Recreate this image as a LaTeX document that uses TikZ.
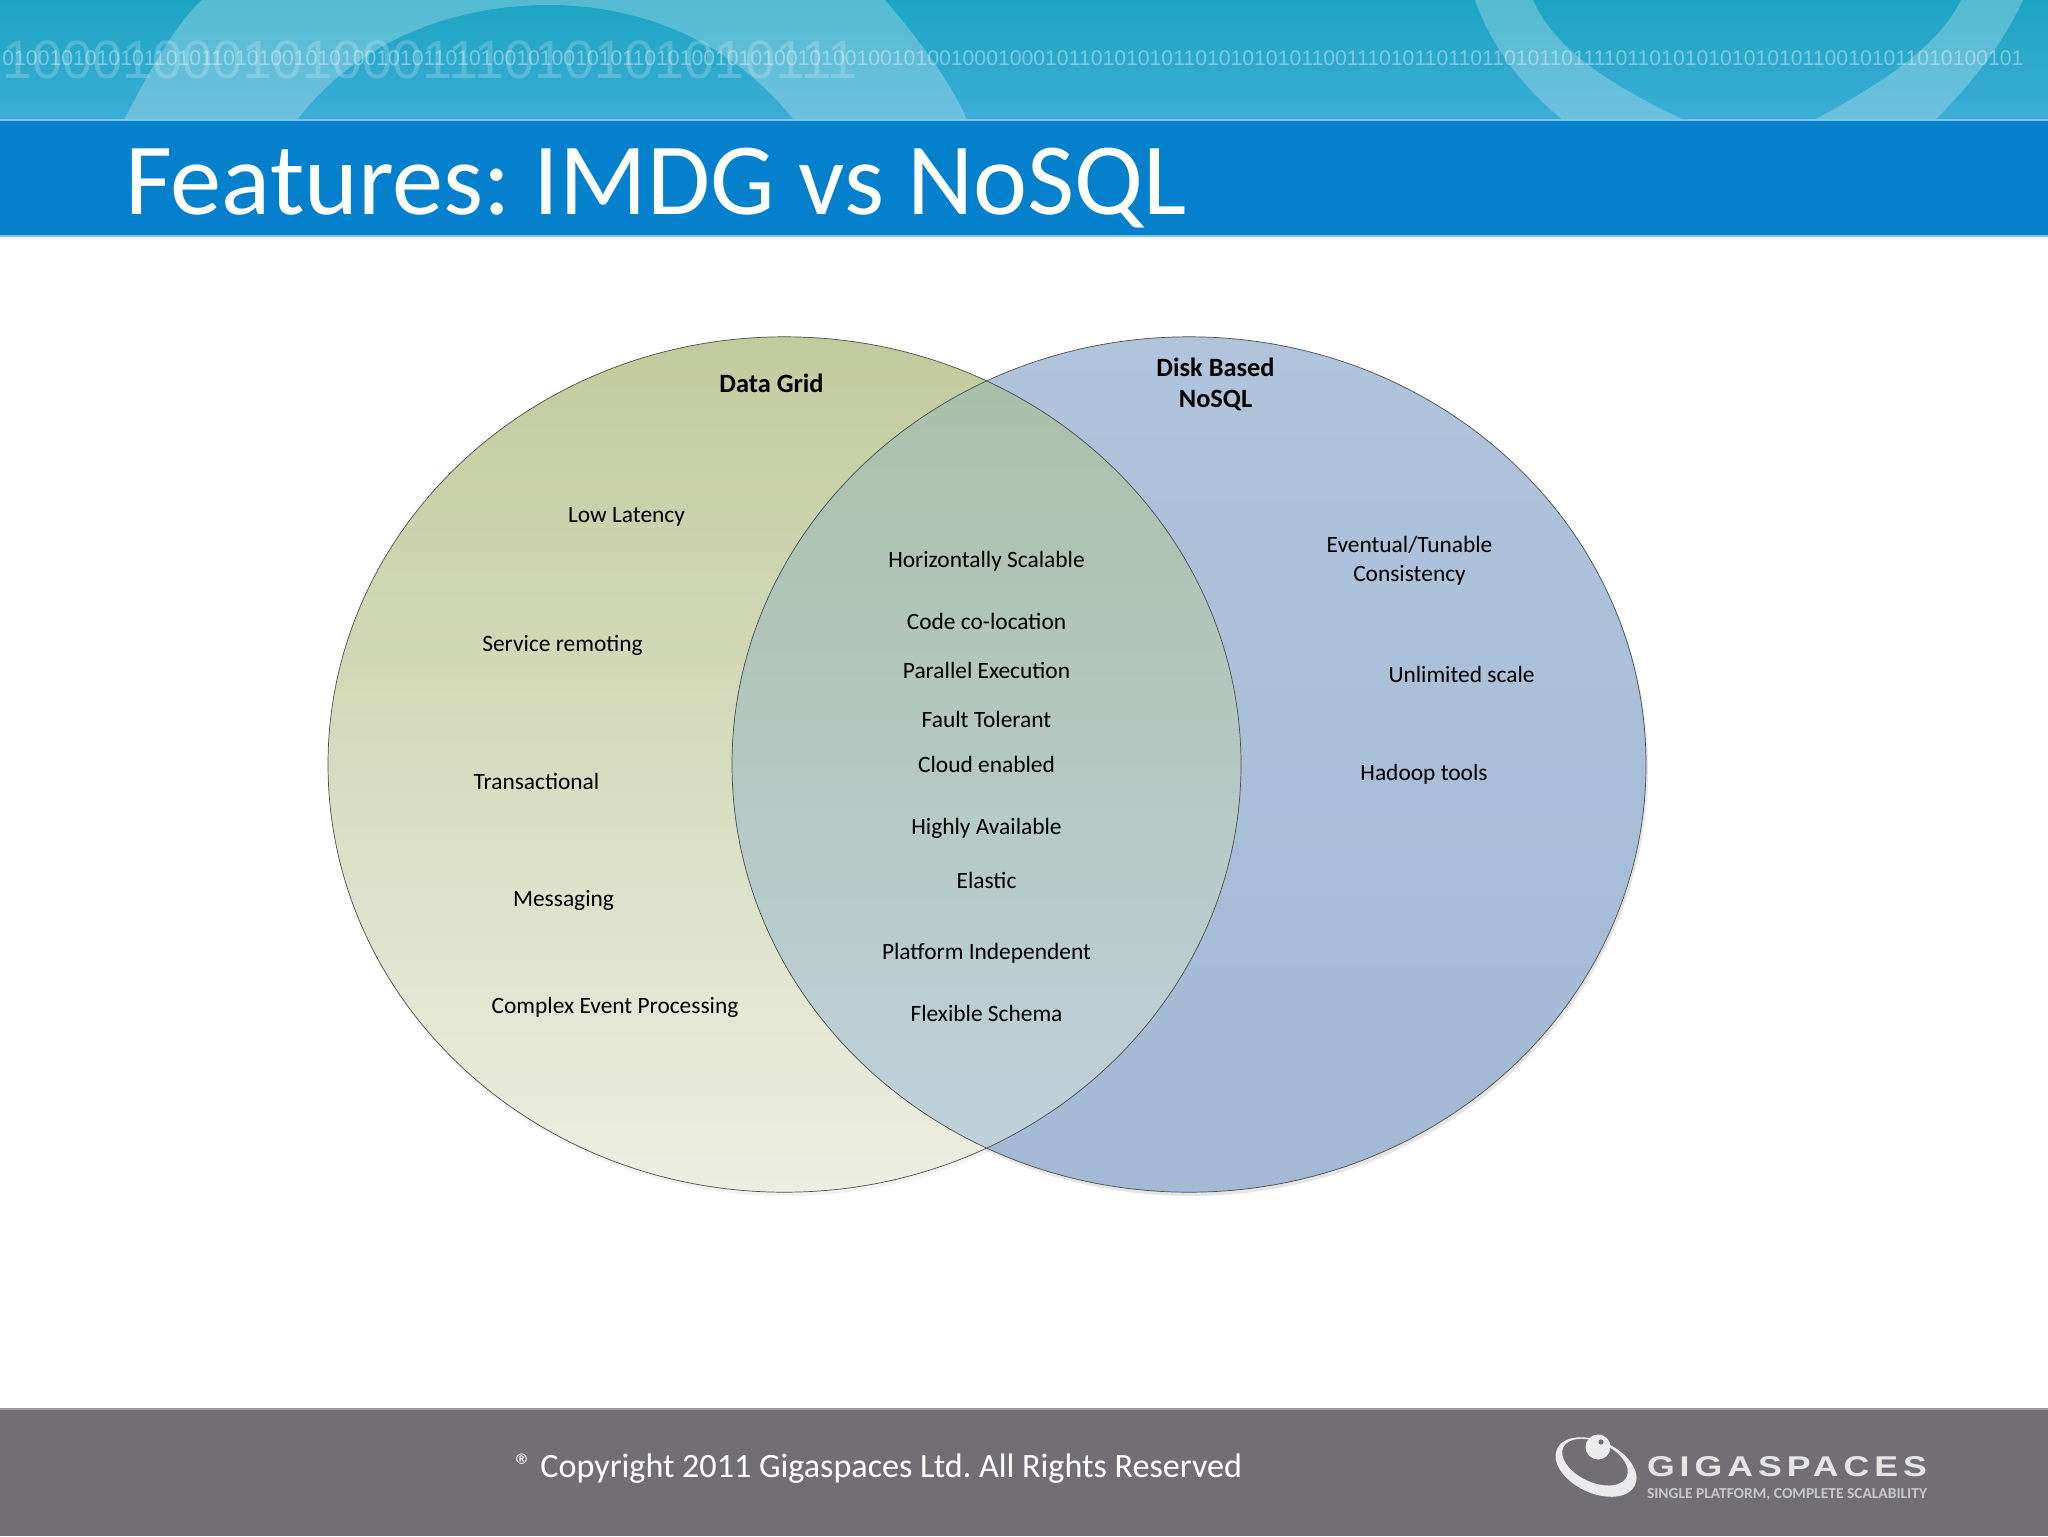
\documentclass[tikz,border=0pt]{standalone}
\usepackage{fontspec}
\usepackage{graphicx}
\setmainfont{Carlito}
\newfontfamily\digitfont{Liberation Sans}
\definecolor{headtop}{HTML}{1CA5C2}
\definecolor{headbot}{HTML}{3DADD6}
\definecolor{band}{HTML}{0580CC}
\definecolor{bandline}{HTML}{7FC4EA}
\definecolor{foot}{HTML}{716F73}
\definecolor{leftTop}{HTML}{C2CB9D}
\definecolor{leftBot}{HTML}{ECEEE2}
\definecolor{rightTop}{HTML}{B0C4DC}
\definecolor{rightBot}{HTML}{A3B9D4}
\definecolor{midTop}{HTML}{A9BFA8}
\definecolor{midBot}{HTML}{C0D2DD}
\tikzset{
  lbl/.style={anchor=base,inner sep=0pt,text=black,font=\fontsize{11.7}{14.35}\selectfont},
  lblb/.style={lbl,font=\fontsize{13.2}{15.7}\selectfont\bfseries},
  arcband/.style={fill=white,fill opacity=.25,draw=none},
  venn/.style={draw=none},
  vennline/.style={draw=black!70,line width=.35pt}
}
\frenchspacing
\begin{document}
\begin{tikzpicture}[x=0.5pt,y=-0.5pt]
\useasboundingbox (0,0) rectangle (2048,1536);
\clip (0,0) rectangle (2048,1536);
% header
\fill[top color=headtop,bottom color=headbot] (0,0) rectangle (2048,120);
\begin{scope}
\clip (0,0) rectangle (2048,120);
\fill[arcband] (124,120) .. controls (150,70) and (175,25) .. (202,0) -- (885,0)
   .. controls (915,35) and (950,80) .. (967,120) -- (794,120)
   .. controls (730,40) and (640,5) .. (549,5) .. controls (440,5) and (350,50) .. (297,120) -- cycle;
\fill[arcband] (1475,0) .. controls (1490,45) and (1525,90) .. (1563,120) -- (1684,120)
   .. controls (1610,85) and (1555,50) .. (1533,0) -- cycle;
\fill[arcband] (1814,120) .. controls (1880,85) and (1940,45) .. (1961,0) -- (2023,0)
   .. controls (2000,50) and (1965,90) .. (1935,120) -- cycle;
\node (bigdigits) [anchor=base west,inner sep=0pt,text=white,text opacity=.2,font=\digitfont\fontsize{27}{27}\selectfont]
  at (2,79) {10001000101000111010101010111};
\node (smalldigits) [anchor=base west,inner sep=0pt,text=white,text opacity=.38,font=\digitfont\fontsize{10.6}{10.6}\selectfont]
  at (2,66) {010010101010110101101010010101001010110101001010010101101010010101001010010010100100010001011010101011010101010110011101011011011010110111101101010101010101100101011010100101};
\end{scope}
% title band
\fill[band] (0,120) rectangle (2048,236);
\fill[bandline] (0,118.5) rectangle (2048,120.5);
\fill[bandline] (0,235) rectangle (2048,237);
\node (title) [anchor=base west,inner sep=0pt,text=white,font=\fontsize{51.2}{51.2}\selectfont] at (125,214) {Features: IMDG vs NoSQL};
% footer
\fill[foot] (0,1409) rectangle (2048,1536);
\fill[foot!70] (0,1408) rectangle (2048,1410);
\node (copy) [anchor=base west,inner sep=0pt,text=white,font=\fontsize{17.05}{17.05}\selectfont] at (515,1477) {® Copyright 2011 Gigaspaces Ltd. All Rights Reserved};
% logo
\fill[white!92!black,even odd rule,rotate around={-25:(1596,1467)}]
  (1596,1467) ellipse [x radius=43,y radius=26]
  (1593,1463) ellipse [x radius=35,y radius=20];
\fill[white!92!black] (1598,1447) circle [radius=12.5];
\fill[foot] (1601,1442) circle [radius=2.6];
\node (logotext) [anchor=center,inner sep=0pt,text=white!90!black] at (1787,1467)
  {\resizebox{140pt}{10pt}{\digitfont\bfseries\addfontfeature{LetterSpace=14}GIGASPACES}};
\node (logotag) [anchor=center,inner sep=0pt,text=white!78!black] at (1787,1495)
  {\resizebox{140pt}{5pt}{\bfseries SINGLE PLATFORM, COMPLETE SCALABILITY}};
% shadows
\fill[black,opacity=.10] (1191,768) ellipse [x radius=457,y radius=428];
\fill[black,opacity=.05] (786,768) ellipse [x radius=457,y radius=428];
% venn
\path[venn,top color=leftTop,bottom color=leftBot] (784.5,764.5) ellipse [x radius=456.5,y radius=427.7];
\path[venn,top color=rightTop,bottom color=rightBot] (1189,764.5) ellipse [x radius=457,y radius=427.7];
\begin{scope}
\clip (784.5,764.5) ellipse [x radius=456.5,y radius=427.7];
\path[venn,top color=midTop,bottom color=midBot] (1189,764.5) ellipse [x radius=457,y radius=427.7];
\end{scope}
\draw[vennline] (784.5,764.5) ellipse [x radius=456.5,y radius=427.7];
\draw[vennline] (1189,764.5) ellipse [x radius=457,y radius=427.7];
% labels
\node (datagrid) [lblb] at (771.5,392) {Data Grid};
\node (diskbased) [lblb,anchor=center,align=center] at (1215.5,384.5) {Disk Based\\NoSQL};
\node (lowlat) [lbl] at (626.5,522.5) {Low Latency};
\node (service) [lbl] at (562.5,651.5) {Service remoting};
\node (trans) [lbl] at (536.5,789.5) {Transactional};
\node (msg) [lbl] at (563.5,906.5) {Messaging};
\node (cep) [lbl] at (615,1013.5) {Complex Event Processing};
\node (horiz) [lbl] at (986.5,567) {Horizontally Scalable};
\node (code) [lbl] at (986.5,629.5) {Code co-location};
\node (par) [lbl] at (986.5,678.5) {Parallel Execution};
\node (fault) [lbl] at (986.5,727.5) {Fault Tolerant};
\node (cloud) [lbl] at (986.5,772.5) {Cloud enabled};
\node (high) [lbl] at (986.5,834.5) {Highly Available};
\node (elastic) [lbl] at (986.5,888) {Elastic};
\node (platform) [lbl] at (986.5,959.5) {Platform Independent};
\node (flex) [lbl] at (986.5,1021.5) {Flexible Schema};
\node (eventual) [lbl,anchor=center,align=center] at (1409.5,561) {Eventual/Tunable\\Consistency};
\node (unlimited) [lbl] at (1461.5,682.5) {Unlimited scale};
\node (hadoop) [lbl] at (1424,780.5) {Hadoop tools};
\end{tikzpicture}
\end{document}
